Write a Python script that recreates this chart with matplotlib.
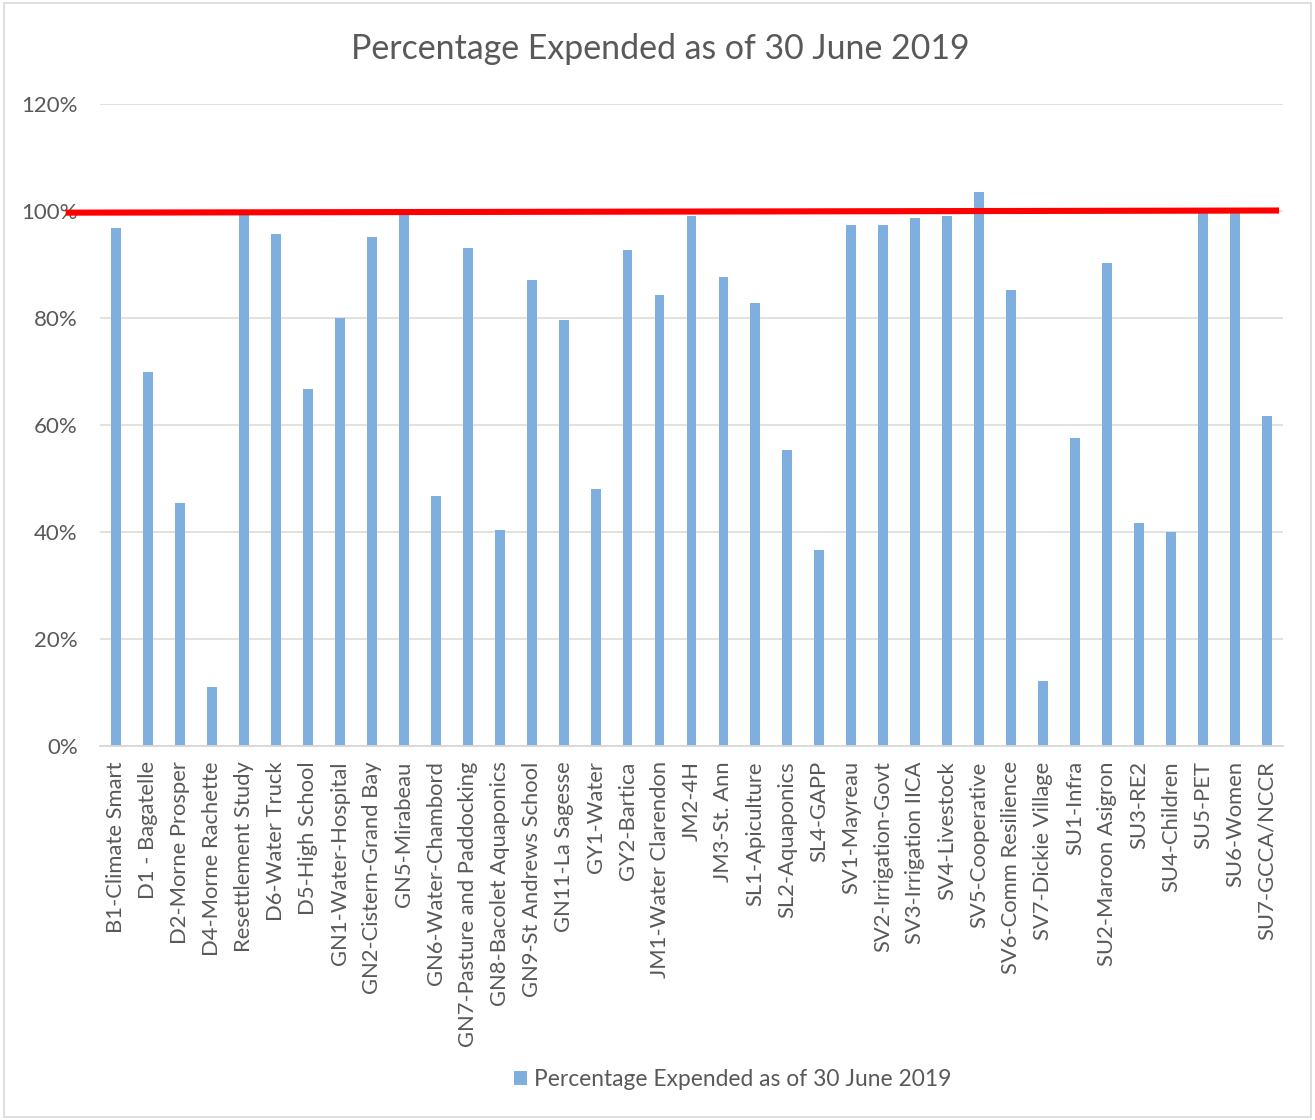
import matplotlib
matplotlib.use("Agg")
import matplotlib.pyplot as plt
from matplotlib.patches import Rectangle
from matplotlib.ticker import PercentFormatter
import numpy as np

plt.rcParams['font.family'] = ['Lato', 'DejaVu Sans']

# project names and share of budget spent
projects = [
    "B1-Climate Smart", "D1 - Bagatelle", "D2-Morne Prosper", "D4-Morne Rachette",
    "Resettlement Study", "D6-Water Truck", "D5-High School", "GN1-Water-Hospital",
    "GN2-Cistern-Grand Bay", "GN5-Mirabeau", "GN6-Water-Chambord",
    "GN7-Pasture and Paddocking", "GN8-Bacolet Aquaponics", "GN9-St Andrews School",
    "GN11-La Sagesse", "GY1-Water", "GY2-Bartica", "JM1-Water Clarendon", "JM2-4H",
    "JM3-St. Ann", "SL1-Apiculture", "SL2-Aquaponics", "SL4-GAPP", "SV1-Mayreau",
    "SV2-Irrigation-Govt", "SV3-Irrigation IICA", "SV4-Livestock", "SV5-Cooperative",
    "SV6-Comm Resilience", "SV7-Dickie Village", "SU1-Infra", "SU2-Maroon Asigron",
    "SU3-RE2", "SU4-Children", "SU5-PET", "SU6-Women", "SU7-GCCA/NCCR",
]
pct_expended = [
    0.968, 0.700, 0.455, 0.110, 1.000, 0.958, 0.667, 0.800, 0.951, 1.000, 0.467,
    0.930, 0.403, 0.872, 0.796, 0.480, 0.928, 0.844, 0.991, 0.877, 0.829, 0.553,
    0.367, 0.973, 0.974, 0.987, 0.991, 1.035, 0.852, 0.121, 0.576, 0.903, 0.417,
    0.401, 1.000, 1.000, 0.617,
]
target = 1.0

title = "Percentage Expended as of 30 June 2019"
bar_color = "#7FAFDE"
text_color = "#595959"
grid_color = "#D9D9D9"

fig = plt.figure(figsize=(13.15, 11.2), dpi=100)
ax = fig.add_axes([0.076, 0.3339, 0.8997, 0.5732])

x = np.arange(len(projects))
ax.bar(x, pct_expended, width=0.31, color=bar_color, label=title, zorder=2)

ax.set_xlim(-0.5, len(projects) - 0.5)
ax.set_ylim(0, 1.2)
ax.set_yticks(np.arange(0, 1.21, 0.2))
ax.yaxis.set_major_formatter(PercentFormatter(1.0, decimals=0))
ax.grid(axis='y', color=grid_color, linewidth=1.1, zorder=0)
ax.set_axisbelow(True)

for s in ['top', 'right', 'left']:
    ax.spines[s].set_visible(False)
ax.spines['bottom'].set_color(grid_color)
ax.spines['bottom'].set_linewidth(1.3)

ax.set_xticks(x)
ax.set_xticklabels(projects, rotation=90, fontsize=15.8, color=text_color)
ax.tick_params(axis='x', length=0, pad=11)
ax.tick_params(axis='y', length=0, pad=16, labelsize=16, labelcolor=text_color)

# red 100% target line drawn over the bars, reaching a bit past the left axis
ax.plot([-0.029, 0.9966], [target - 0.003, target + 0.001], color='#FF0000',
        linewidth=4.4, transform=ax.get_yaxis_transform(), clip_on=False,
        zorder=5, solid_capstyle='butt')

fig.text(0.502, 0.956, title, ha='center', va='center', fontsize=24.4, color=text_color)

fig.legend(loc='center', bbox_to_anchor=(0.557, 0.036), frameon=False,
           fontsize=16.4, labelcolor=text_color, handlelength=0.6, handleheight=0.6,
           handletextpad=0.3)

# chart frame
fig.patches.append(Rectangle((0.003, 0.003), 0.994, 0.994, transform=fig.transFigure,
                             fill=False, edgecolor=grid_color, linewidth=1.2))

fig.savefig("out.png", dpi=100)
